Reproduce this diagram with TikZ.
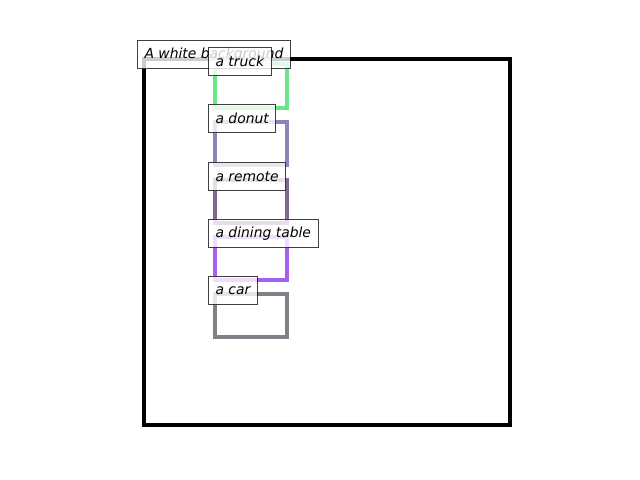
\documentclass[tikz,border=0pt]{standalone}
\usepackage{fontspec}
\setmainfont{DejaVu Sans}
\definecolor{truckgreen}{HTML}{66E888}
\definecolor{donutblue}{HTML}{8888B8}
\definecolor{remotepurple}{HTML}{806890}
\definecolor{tableviolet}{HTML}{A860F0}
\definecolor{cargray}{HTML}{808088}
\begin{document}
\begin{tikzpicture}[x=0.01in,y=-0.01in,
    tag/.style={anchor=north west, draw=black, draw opacity=0.75, fill=white,
      fill opacity=0.8, text opacity=1, line width=0.01in, inner xsep=0.07in,
      inner ysep=0pt, minimum height=0.28in,
      font=\fontsize{10bp}{12bp}\selectfont\itshape},
    box/.style={line width=2.3bp}]
    \useasboundingbox (0,0) rectangle (640,480);

    % background and object boxes
    \draw[box, black] (144,59) rectangle (510,425);
    \draw[box, truckgreen] (215,64) rectangle (287,108);
    \draw[box, donutblue] (215,122) rectangle (287,165);
    \draw[box, remotepurple] (215,180) rectangle (287,223);
    \draw[box, tableviolet] (215,237) rectangle (287,280);
    \draw[box, cargray] (215,294) rectangle (287,337);

    % labels
    \node[tag] (background) at (137,40) {A white background};
    \node[tag] (truck) at (208,47) {a truck};
    \node[tag] (donut) at (208,104) {a donut};
    \node[tag] (remote) at (208,162) {a remote};
    \node[tag] (table) at (208,219) {a dining table};
    \node[tag] (car) at (208,276) {a car};
\end{tikzpicture}
\end{document}
